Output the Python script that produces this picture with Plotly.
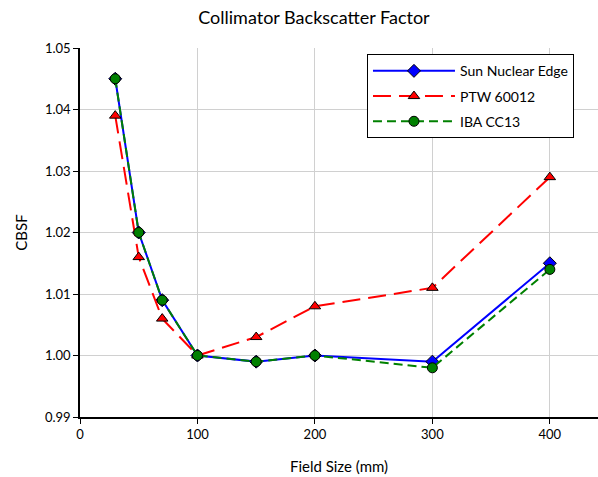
import plotly.graph_objects as go

field_size = [30, 50, 70, 100, 150, 200, 300, 400]
sun_nuclear = [1.045, 1.020, 1.009, 1.000, 0.999, 1.000, 0.999, 1.015]
ptw_60012 = [1.039, 1.016, 1.006, 1.000, 1.003, 1.008, 1.011, 1.029]
iba_cc13 = [1.045, 1.020, 1.009, 1.000, 0.999, 1.000, 0.998, 1.014]

FONT = "Lato, 'Open Sans', sans-serif"

fig = go.Figure()
fig.add_trace(go.Scatter(
    x=field_size, y=sun_nuclear, name="Sun Nuclear Edge", mode="lines+markers",
    legendgroup="a",
    line=dict(color="#0000FF", width=2),
    marker=dict(symbol="diamond", size=10, color="#0000FF", line=dict(color="black", width=1))))
fig.add_trace(go.Scatter(
    x=field_size, y=ptw_60012, name="PTW 60012", mode="lines+markers",
    legendgroup="b",
    line=dict(color="#FF0000", width=2, dash="18px,8px"),
    marker=dict(symbol="triangle-up", size=10, color="#FF0000", line=dict(color="black", width=1))))
fig.add_trace(go.Scatter(
    x=field_size, y=iba_cc13, name="IBA CC13", mode="lines+markers",
    legendgroup="c",
    line=dict(color="#008000", width=2, dash="9px,5px"),
    marker=dict(symbol="circle", size=10, color="#008000", line=dict(color="black", width=1))))

fig.update_layout(
    width=598, height=477,
    margin=dict(l=80, r=0, t=48, b=60),
    paper_bgcolor="white", plot_bgcolor="white",
    font=dict(family=FONT, size=13, color="black"),
    title=dict(text="Collimator Backscatter Factor", x=0.525, xanchor="center", y=0.962, yanchor="middle",
               font=dict(family=FONT, size=18, color="black")),
    legend=dict(x=0.554, y=0.983, xanchor="left", yanchor="top",
                bordercolor="black", borderwidth=1, bgcolor="white",
                font=dict(family=FONT, size=14), itemwidth=82,
                tracegroupgap=4),
    xaxis=dict(range=[0, 441], tickvals=[0, 100, 200, 300, 400],
               showgrid=True, gridcolor="#D0D0D0", gridwidth=1,
               showline=True, linecolor="black", linewidth=1.5,
               ticks="outside", ticklen=5, tickcolor="black",
               zeroline=False,
               title=dict(text="Field Size (mm)", font=dict(family=FONT, size=15), standoff=20)),
    yaxis=dict(range=[0.99, 1.05], tickvals=[0.99, 1.00, 1.01, 1.02, 1.03, 1.04, 1.05],
               tickformat=".2f",
               showgrid=True, gridcolor="#D0D0D0", gridwidth=1,
               showline=True, linecolor="black", linewidth=1.5,
               ticks="outside", ticklen=5, tickcolor="black",
               zeroline=False,
               title=dict(text="CBSF", font=dict(family=FONT, size=15), standoff=14)),
)

fig.write_html("out.html")
